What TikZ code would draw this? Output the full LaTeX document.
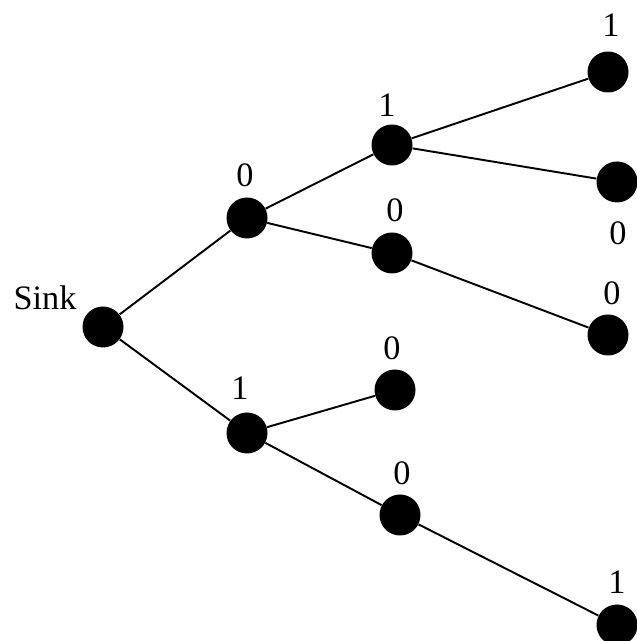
\documentclass[tikz,border=0pt]{standalone}
\usepackage{fontspec}
\setmainfont{Liberation Serif}
\usepackage{tikz}

\begin{document}
\begin{tikzpicture}[
dot/.style={circle,fill=black,inner sep=0pt,minimum size=0.82cm},
bit/.style={font=\fontsize{19.5}{23}\selectfont,inner sep=0pt},
edge/.style={line width=1.1pt} ]

\useasboundingbox (0,0) rectangle (12.72,12.82);

\node[dot](sink) at (2.06,6.28) {};
\node[dot](a) at (4.94,8.46) {};
\node[dot](b) at (4.94,4.16) {};
\node[dot](aa) at (7.84,9.92) {};
\node[dot](ab) at (7.84,7.76) {};
\node[dot](ba) at (7.90,5.02) {};
\node[dot](bb) at (8.00,2.52) {};
\node[dot](aaa) at (12.16,11.38) {};
\node[dot](aab) at (12.34,9.18) {};
\node[dot](aba) at (12.16,6.12) {};
\node[dot](bba) at (12.34,0.32) {};

\node[bit](Lsink) at (0.90,6.86) {Sink};
\node[bit](La) at (4.90,9.32) {0};
\node[bit](Lb) at (4.80,5.06) {1};
\node[bit](Laa) at (7.74,10.72) {1};
\node[bit](Lab) at (7.90,8.62) {0};
\node[bit](Lba) at (7.84,5.86) {0};
\node[bit](Lbb) at (8.04,3.36) {0};
\node[bit](Laaa) at (12.22,12.32) {1};
\node[bit](Laab) at (12.36,8.16) {0};
\node[bit](Laba) at (12.24,6.96) {0};
\node[bit](Lbba) at (12.34,1.18) {1};

\draw[edge] (sink) -- (a);
\draw[edge] (sink) -- (b);
\draw[edge] (a) -- (aa);
\draw[edge] (a) -- (ab);
\draw[edge] (b) -- (ba);
\draw[edge] (b) -- (bb);
\draw[edge] (aa) -- (aaa);
\draw[edge] (aa) -- (aab);
\draw[edge] (ab) -- (aba);
\draw[edge] (bb) -- (bba);

\end{tikzpicture}
\end{document}
